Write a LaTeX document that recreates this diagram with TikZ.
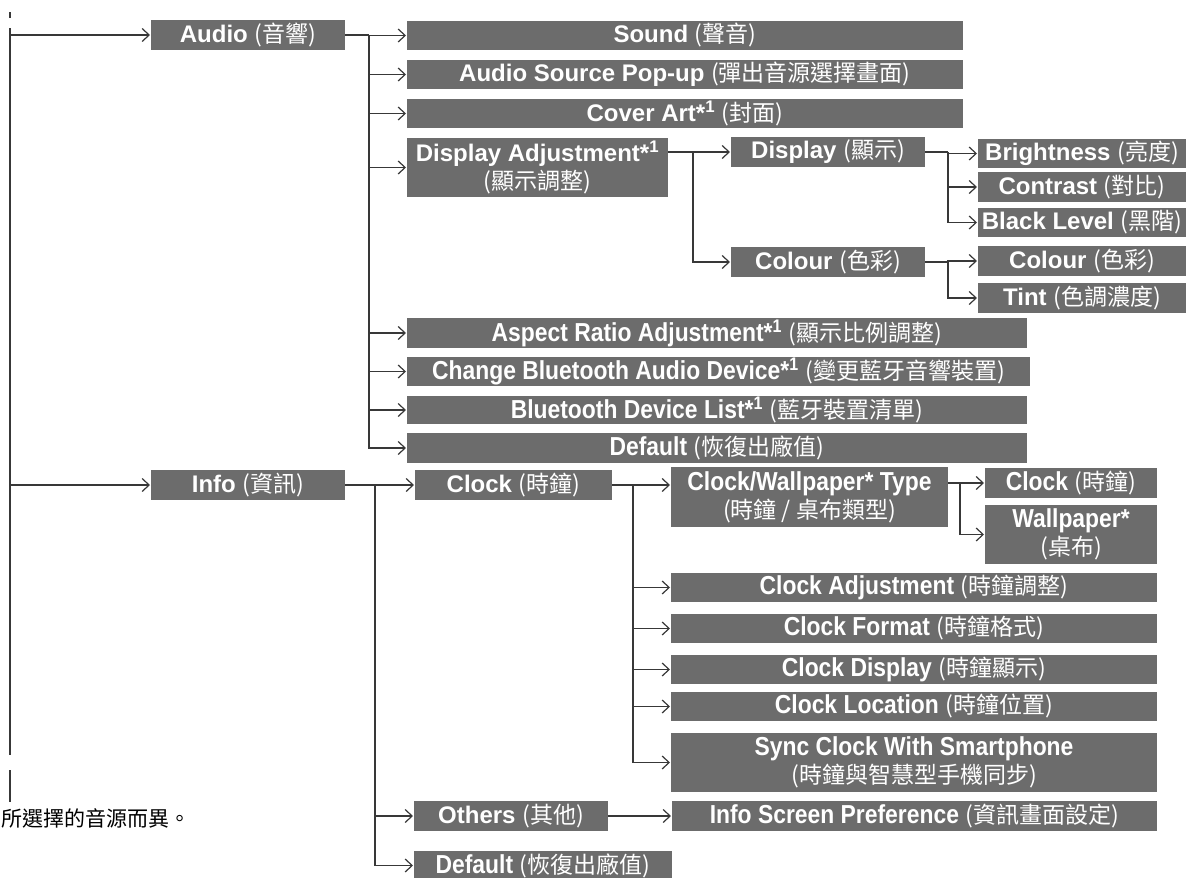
\documentclass[tikz,border=0pt]{standalone}
\usepackage{fontspec}
\setmainfont{Liberation Sans}
\newfontfamily\cjkf{Noto Sans CJK TC}
\newfontfamily\narrowf[FakeStretch=0.88]{Liberation Sans}
\usetikzlibrary{arrows.meta}
\definecolor{boxgray}{HTML}{6C6C6C}
\definecolor{linegray}{HTML}{383838}
\newcommand\zh[1]{{\cjkf\fontseries{m}\fontsize{23}{28}\selectfont #1}}
\newcommand\nw[1]{{\narrowf\bfseries\fontsize{26}{28}\selectfont #1}}
\newcommand\bx[6]{\node[mbox, minimum width={(#4-#2)*1pt}, minimum height={(#5-#3)*1pt}] (#1) at ({(#2+#4)/2},{(#3+#5)/2}) {#6};}
\begin{document}
\begin{tikzpicture}[x=1pt,y=-1pt,
  mbox/.style={rectangle, fill=boxgray, text=white, inner sep=0pt, outer sep=0pt,
    font=\bfseries\fontsize{24}{28}\selectfont, align=center},
  ln/.style={draw=linegray, line width=1.2pt},
  arr/.style={ln, -{Straight Barb[length=7pt,width=13pt,line width=1.2pt]}, shorten >=1pt},
  note/.style={font=\cjkf\fontsize{21}{24}\selectfont, text=black, anchor=west, inner sep=0pt}]
\useasboundingbox (0,0) rectangle (1186,878);
\begin{scope}
\clip (0,0) rectangle (1186,878);
% ---- boxes: Audio branch
\bx{audio}{151}{20}{345}{50}{Audio \zh{(音響)}}
\bx{sound}{407}{21}{963}{50}{Sound \zh{(聲音)}}
\bx{aspop}{407}{60}{963}{89}{Audio Source Pop-up \zh{(彈出音源選擇畫面)}}
\bx{cover}{407}{99}{963}{128}{Cover Art*\textsuperscript{1} \zh{(封面)}}
\bx{dadj}{407}{138}{668}{197}{Display Adjustment*\textsuperscript{1}\\\zh{(顯示調整)}}
\bx{disp}{731}{137}{925}{167}{Display \zh{(顯示)}}
\bx{bright}{978}{139}{1186}{168}{Brightness \zh{(亮度)}}
\bx{contr}{978}{172}{1186}{202}{Contrast \zh{(對比)}}
\bx{black}{978}{208}{1186}{237}{Black Level \zh{(黑階)}}
\bx{colour}{731}{247}{925}{277}{Colour \zh{(色彩)}}
\bx{colourb}{978}{246}{1186}{276}{Colour \zh{(色彩)}}
\bx{tint}{978}{283}{1186}{313}{Tint \zh{(色調濃度)}}
\bx{aspect}{407}{318}{1027}{348}{\nw{Aspect Ratio Adjustment*\textsuperscript{1}} \zh{(顯示比例調整)}}
\bx{chbt}{407}{357}{1030}{386}{\nw{Change Bluetooth Audio Device*\textsuperscript{1}} \zh{(變更藍牙音響裝置)}}
\bx{btlist}{407}{396}{1027}{424}{\nw{Bluetooth Device List*\textsuperscript{1}} \zh{(藍牙裝置清單)}}
\bx{defa}{407}{433}{1027}{463}{\nw{Default} \zh{(恢復出廠值)}}
% ---- boxes: Info branch
\bx{info}{151}{470}{345}{500}{Info \zh{(資訊)}}
\bx{clock}{415}{470}{612}{500}{Clock \zh{(時鐘)}}
\bx{cwt}{671}{467}{948}{527}{\nw{Clock/Wallpaper* Type}\\\zh{(時鐘 / 桌布類型)}}
\bx{clkb}{985}{468}{1157}{498}{\nw{Clock} \zh{(時鐘)}}
\bx{wall}{985}{505}{1157}{564}{\nw{Wallpaper*}\\\zh{(桌布)}}
\bx{cadj}{671}{573}{1157}{602}{\nw{Clock Adjustment} \zh{(時鐘調整)}}
\bx{cfmt}{671}{614}{1157}{643}{\nw{Clock Format} \zh{(時鐘格式)}}
\bx{cdisp}{671}{655}{1157}{684}{\nw{Clock Display} \zh{(時鐘顯示)}}
\bx{cloc}{671}{692}{1157}{721}{\nw{Clock Location} \zh{(時鐘位置)}}
\bx{sync}{671}{733}{1157}{792}{\nw{Sync Clock With Smartphone}\\\zh{(時鐘與智慧型手機同步)}}
\bx{others}{414}{801}{608}{831}{Others \zh{(其他)}}
\bx{isp}{672}{801}{1157}{831}{\nw{Info Screen Preference} \zh{(資訊畫面設定)}}
\bx{defb}{414}{851}{672}{880}{\nw{Default} \zh{(恢復出廠值)}}
% ---- note text
\node[note] (note) at (1,818) {所選擇的音源而異。};
% ---- root line
\coordinate (rt0) at (10,12);
\coordinate (rt1) at (10,18);
\coordinate (r0) at (10,28);
\coordinate (r1) at (10,755);
\coordinate (rb0) at (10,770);
\coordinate (rb1) at (10,802);
\draw[ln] (rt0) -- (rt1);
\draw[ln] (r0) -- (r1);
\draw[ln] (rb0) -- (rb1);
\draw[arr] (r0 |- audio) -- (audio.west);
\draw[arr] (r0 |- info) -- (info.west);
% ---- audio children
\coordinate (ja) at (369,0);
\draw[ln] (audio.east) -- (audio.east -| ja);
\foreach \c in {sound,aspop,cover,dadj,aspect,chbt,btlist,defa}
  \draw[arr] (audio.east -| ja) |- (\c.west);
% ---- display adjustment
\coordinate (jd) at (693,0);
\draw[ln] (dadj.east |- disp) -- (jd |- disp);
\draw[arr] (jd |- disp) -- (disp.west);
\draw[arr] (jd |- disp) |- (colour.west);
\coordinate (jdd) at (948,0);
\draw[ln] (disp.east) -- (disp.east -| jdd);
\foreach \c in {bright,contr,black}
  \draw[arr] (disp.east -| jdd) |- (\c.west);
\draw[ln] (colour.east) -- (colour.east -| jdd);
\foreach \c in {colourb,tint}
  \draw[arr] (colour.east -| jdd) |- (\c.west);
% ---- info children
\coordinate (ji) at (375,0);
\draw[ln] (info.east) -- (info.east -| ji);
\foreach \c in {clock,others,defb}
  \draw[arr] (info.east -| ji) |- (\c.west);
\coordinate (jc) at (633,0);
\draw[ln] (clock.east) -- (clock.east -| jc);
\draw[arr] (clock.east -| jc) -- (clock.east -| cwt.west);
\foreach \c in {cadj,cfmt,cdisp,cloc,sync}
  \draw[arr] (clock.east -| jc) |- (\c.west);
\coordinate (jw) at (960,0);
\draw[ln] (cwt.east |- clkb) -- (jw |- clkb);
\draw[arr] (jw |- clkb) -- (clkb.west);
\draw[arr] (jw |- clkb) |- (wall.west);
\draw[arr] (others.east) -- (isp.west);
\end{scope}
\end{tikzpicture}
\end{document}
